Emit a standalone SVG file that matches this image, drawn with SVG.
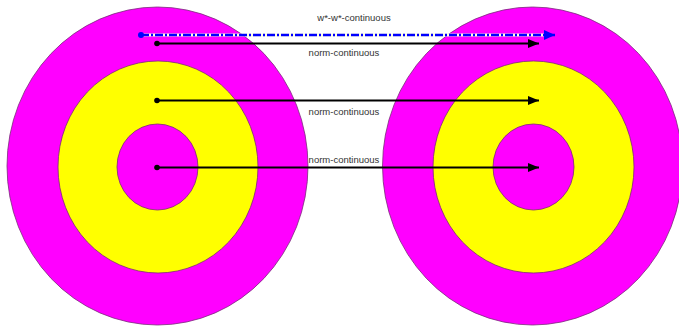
<svg xmlns="http://www.w3.org/2000/svg" width="679" height="326" viewBox="0 0 679 326">
<style>
.mag{fill:#ff00ff;stroke:#7a2a7a;stroke-width:0.8}
.yel{fill:#ffff00;stroke:#7a2a7a;stroke-width:0.8}
.blk{stroke:#000;stroke-width:2;fill:none}
.lbl{font-family:"Liberation Sans",Arial,sans-serif;font-size:9.5px;fill:#333;text-anchor:middle}
</style>
<defs>
<marker id="ah" markerWidth="11" markerHeight="9" refX="11" refY="4.5" orient="auto" markerUnits="userSpaceOnUse">
<path d="M0,0 L11,4.5 L0,9 Z" fill="#000"/>
</marker>
<marker id="ahb" markerWidth="11" markerHeight="10" refX="11" refY="5" orient="auto" markerUnits="userSpaceOnUse">
<path d="M0,0 L11,5 L0,10 Z" fill="#0000ff"/>
</marker>
</defs>
<g id="left">
<ellipse class="mag" cx="157.5" cy="166" rx="150.5" ry="159"/>
<ellipse class="yel" cx="158" cy="167" rx="100" ry="106"/>
<ellipse class="mag" cx="157.5" cy="167" rx="40.5" ry="43"/>
</g>
<g id="right">
<ellipse class="mag" cx="532.5" cy="166" rx="150" ry="159"/>
<ellipse class="yel" cx="533.5" cy="167" rx="100.5" ry="106"/>
<ellipse class="mag" cx="533.5" cy="167" rx="40.5" ry="43"/>
</g>
<g id="connectors">
<line x1="141" y1="35" x2="548" y2="35" stroke="#ffffe0" stroke-width="3"/>
<line x1="141" y1="35" x2="555" y2="35" stroke="#0000ff" stroke-width="2.4" stroke-dasharray="8 2 2 2" marker-end="url(#ahb)"/>
<circle cx="141" cy="35" r="3" fill="#0000ff"/>
<line class="blk" x1="157" y1="43.5" x2="539" y2="43.5" marker-end="url(#ah)"/>
<circle cx="157" cy="43.5" r="2.8" fill="#000"/>
<line class="blk" x1="157" y1="100.5" x2="539" y2="100.5" marker-end="url(#ah)"/>
<circle cx="157" cy="100.5" r="2.8" fill="#000"/>
<line class="blk" x1="157" y1="167.5" x2="539" y2="167.5" marker-end="url(#ah)"/>
<circle cx="157" cy="167.5" r="2.8" fill="#000"/>
<text class="lbl" x="354" y="21">w*-w*-continuous</text>
<text class="lbl" x="344" y="56">norm-continuous</text>
<text class="lbl" x="344" y="115">norm-continuous</text>
<text class="lbl" x="344" y="163">norm-continuous</text>
</g>
</svg>
